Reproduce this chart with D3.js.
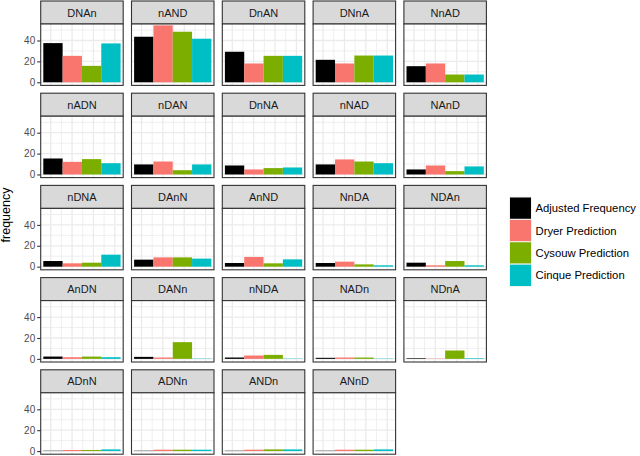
<!DOCTYPE html>
<html><head><meta charset="utf-8">
<script src="https://cdn.jsdelivr.net/npm/d3@7"></script>
<style>body{margin:0;background:#fff;} svg{display:block;font-family:"Liberation Sans",Arial,sans-serif;}</style>
</head><body>
<svg id="c" width="640" height="456"></svg>
<script>
const orders = ["DNAn","nAND","DnAN","DNnA","NnAD",
                "nADN","nDAN","DnNA","nNAD","NAnD",
                "nDNA","DAnN","AnND","NnDA","NDAn",
                "AnDN","DANn","nNDA","NADn","NDnA",
                "ADnN","ADNn","ANDn","ANnD"];
const series = ["Adjusted Frequency","Dryer Prediction","Cysouw Prediction","Cinque Prediction"];
const colors = ["#000000","#F8766D","#7CAE00","#00BFC4"];
const adjusted = [37.5,43.6,29.2,21.5,15.4, 15.3,9.6,8.6,9.6,4.8, 5.4,6.7,3.5,3.5,3.8, 2.2,1.9,1.3,1.0,0.6, 0.3,0.3,0.3,0.3];
const dryer    = [25.3,54.5,18.0,18.0,18.0, 12.1,12.4,4.8,14.4,8.6, 3.2,8.9,9.3,4.8,1.3, 1.6,1.3,3.2,1.3,0.3, 1.0,1.3,1.3,1.3];
const cysouw   = [15.7,48.4,25.3,25.6,7.4, 14.7,4.1,6.1,12.4,3.2, 3.8,8.9,3.2,2.2,5.4, 2.2,16.0,3.8,1.3,8.0, 1.0,1.3,1.6,1.3];
const cinque   = [37.2,41.7,25.3,25.6,7.4, 10.8,9.6,6.7,10.8,7.7, 11.5,7.7,7.0,1.3,1.3, 1.6,0.3,0.3,0.3,0.6, 1.6,1.3,1.6,1.6];
const yTicks = [0,20,40];
const yMinor = [10,30,50];

const valuesBySeries = [adjusted, dryer, cysouw, cinque];
const svg = d3.select("#c");
const ncol = 5;
const colX = d3.scaleLinear().domain([0,1]).range([40.7, 131.5]);
const rowY = d3.scaleLinear().domain([0,1]).range([1, 93.2]);
const pW = 82.5, stripH = 23, plotH = 61.4;

const y = d3.scaleLinear().domain([-3, 55.8]).range([plotH, 0]);
const xb = d3.scaleBand().domain(series).range([2.6, pW-2.6]).padding(0);
const xg = d3.scaleLinear().domain([0.065, 7.785]).range([0, pW]);
const xGridVals = d3.range(1, 8);

orders.forEach((name, i) => {
  const c = i % ncol, r = Math.floor(i / ncol);
  const gx = colX(c), gy = rowY(r);
  const g = svg.append("g").attr("transform", `translate(${gx},${gy})`);
  // strip
  g.append("rect").attr("x",0).attr("y",0).attr("width",pW).attr("height",stripH)
    .attr("fill","#D9D9D9").attr("stroke","#333333").attr("stroke-width",1.1);
  g.append("text").attr("x",pW/2).attr("y",stripH/2+4).attr("text-anchor","middle")
    .attr("font-size",11).attr("fill","#1A1A1A").text(name);
  const p = g.append("g").attr("transform",`translate(0,${stripH})`);
  p.append("rect").attr("width",pW).attr("height",plotH).attr("fill","#fff");
  // grid
  p.selectAll(".hm").data(yMinor).join("line").attr("x1",0).attr("x2",pW)
    .attr("y1",d=>y(d)).attr("y2",d=>y(d)).attr("stroke","#EBEBEB").attr("stroke-width",0.8);
  p.selectAll(".hM").data(yTicks).join("line").attr("x1",0).attr("x2",pW)
    .attr("y1",d=>y(d)).attr("y2",d=>y(d)).attr("stroke","#EBEBEB").attr("stroke-width",1.3);
  p.selectAll(".v").data(xGridVals).join("line").attr("y1",0).attr("y2",plotH)
    .attr("x1",d=>xg(d)).attr("x2",d=>xg(d)).attr("stroke","#EBEBEB").attr("stroke-width",d=>d%2?1.3:0.8);
  // bars
  p.selectAll(".bar").data(series.map((s,k)=>({s,k,v:valuesBySeries[k][i]}))).join("rect")
    .attr("x",d=>xb(d.s)).attr("width",xb.bandwidth())
    .attr("y",d=>y(d.v)).attr("height",d=>y(0)-y(d.v)).attr("fill",d=>colors[d.k]);
  p.append("rect").attr("width",pW).attr("height",plotH).attr("fill","none")
    .attr("stroke","#333333").attr("stroke-width",1.1);
  // y axis on first column
  if (c === 0) {
    const ax = p.append("g").call(d3.axisLeft(y).tickValues(yTicks).tickSize(3.5).tickPadding(2));
    ax.select(".domain").remove();
    ax.selectAll("line").attr("stroke","#333333").attr("stroke-width",1.1);
    ax.selectAll("text").attr("fill","#4D4D4D").attr("font-size",10).attr("font-family","Liberation Sans, Arial, sans-serif");
  }
});

svg.append("text").attr("transform","translate(10,215) rotate(-90)").attr("text-anchor","middle")
  .attr("font-size",12.5).attr("fill","#000").text("frequency");

// legend
const lg = svg.append("g").attr("transform","translate(509.5,197)");
const ly = d3.scaleBand().domain(series).range([0, 89.5]);
lg.selectAll("rect").data(series).join("rect")
  .attr("x",0).attr("y",d=>ly(d)).attr("width",22).attr("height",ly.bandwidth())
  .attr("fill",(d,k)=>colors[k]).attr("stroke","#F2F2F2").attr("stroke-width",1);
lg.selectAll("text").data(series).join("text")
  .attr("x",26).attr("y",d=>ly(d)+ly.bandwidth()/2+4).attr("font-size",11.3).attr("fill","#000").text(d=>d);
</script>
</body></html>
